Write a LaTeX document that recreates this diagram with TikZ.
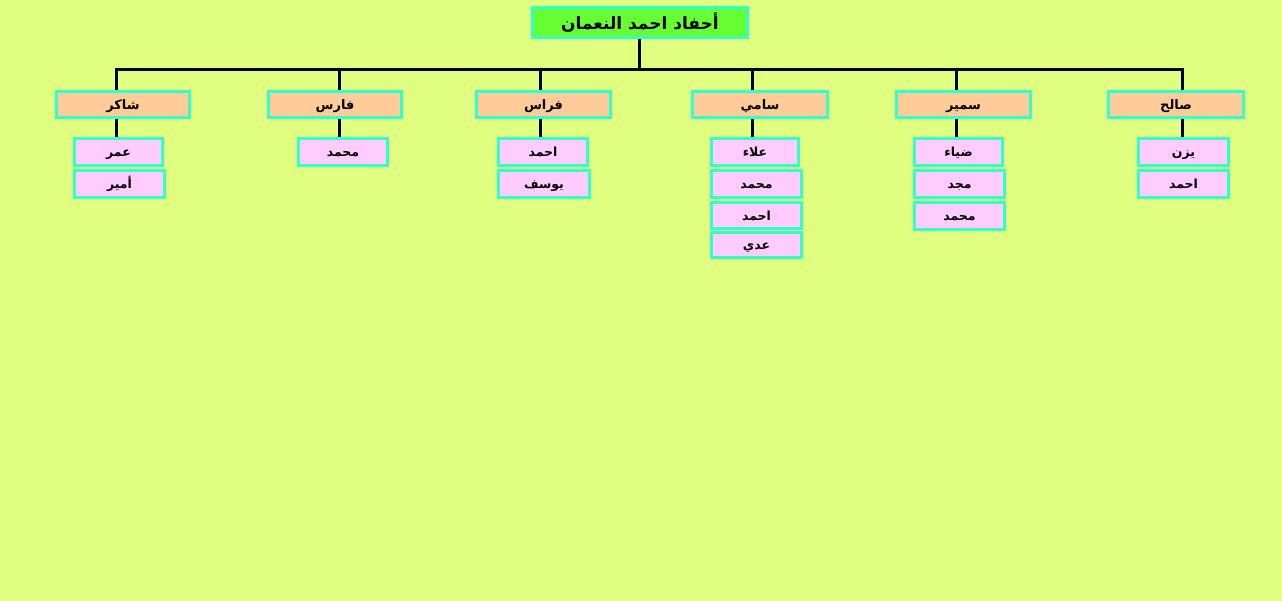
\documentclass[tikz,border=0pt]{standalone}
\usepackage{fontspec}
\TeXXeTstate=1
\newfontfamily\arabicfont[Script=Arabic]{DejaVu Sans}
\definecolor{bgc}{RGB}{224,255,128}
\definecolor{rootc}{RGB}{102,255,51}
\definecolor{edgec}{RGB}{51,255,204}
\definecolor{childc}{RGB}{255,204,153}
\definecolor{grandc}{RGB}{255,204,255}
\newcommand{\ar}[1]{\raisebox{-0.4em}[0pt][0pt]{\arabicfont\bfseries\beginR #1\endR}}
\begin{document}
\begin{tikzpicture}[x=1pt,y=-1pt,
  box/.style={draw=edgec,line width=3pt,inner sep=0pt,anchor=center,text=black},
  rootbox/.style={box,fill=rootc,minimum width=215pt,minimum height=30pt,font=\fontsize{17}{19}\selectfont},
  childbox/.style={box,fill=childc,minimum width=133pt,minimum height=26pt,font=\fontsize{13}{15}\selectfont},
  grandbox/.style={box,fill=grandc,minimum height=27pt,font=\fontsize{12.5}{14}\selectfont},
  link/.style={draw=black,line width=3pt}]
\fill[bgc] (0,0) rectangle (1282,601);
\useasboundingbox (0,0) rectangle (1282,601);
% root
\node[rootbox] (root) at (640,22.5) {\ar{أحفاد احمد النعمان}};
% children
\node[childbox,minimum width=133pt] (c1) at (123,104.5) {\ar{شاكر}};
\node[childbox,minimum width=133pt] (c2) at (335,104.5) {\ar{فارس}};
\node[childbox,minimum width=134pt] (c3) at (543.5,104.5) {\ar{فراس}};
\node[childbox,minimum width=135pt] (c4) at (760,104.5) {\ar{سامي}};
\node[childbox,minimum width=134pt] (c5) at (963.5,104.5) {\ar{سمير}};
\node[childbox,minimum width=135pt] (c6) at (1176,104.5) {\ar{صالح}};
% grandchildren
\node[grandbox,minimum width=88pt] (g11) at (118.5,152) {\ar{عمر}};
\node[grandbox,minimum width=90pt] (g12) at (119.5,184) {\ar{أمير}};
\node[grandbox,minimum width=89pt] (g21) at (343,152) {\ar{محمد}};
\node[grandbox,minimum width=89pt] (g31) at (543,152) {\ar{احمد}};
\node[grandbox,minimum width=91pt] (g32) at (544,184) {\ar{يوسف}};
\node[grandbox,minimum width=87pt] (g41) at (755,152) {\ar{علاء}};
\node[grandbox,minimum width=90pt] (g42) at (756.5,184) {\ar{محمد}};
\node[grandbox,minimum width=90pt,minimum height=26pt] (g43) at (756.5,215.5) {\ar{احمد}};
\node[grandbox,minimum width=90pt,minimum height=25pt] (g44) at (756.5,245) {\ar{عدي}};
\node[grandbox,minimum width=88pt] (g51) at (958.5,152) {\ar{ضياء}};
\node[grandbox,minimum width=90pt] (g52) at (959.5,184) {\ar{مجد}};
\node[grandbox,minimum width=90pt] (g53) at (959.5,216) {\ar{محمد}};
\node[grandbox,minimum width=90pt] (g61) at (1183.5,152) {\ar{يزن}};
\node[grandbox,minimum width=90pt] (g62) at (1183.5,184) {\ar{احمد}};
% junctions
\coordinate (jr) at (639,70);
\coordinate (j1) at (116,70);
\coordinate (j2) at (339,70);
\coordinate (j3) at (540,70);
\coordinate (j4) at (752,70);
\coordinate (j5) at (956,70);
\coordinate (j6) at (1182,70);
% connectors
\draw[link] (root.south -| jr) -- (jr);
\draw[link] (c1.north -| j1) -- (j1) -- (j6) -- (c6.north -| j6);
\draw[link] (j2) -- (c2.north -| j2);
\draw[link] (j3) -- (c3.north -| j3);
\draw[link] (j4) -- (c4.north -| j4);
\draw[link] (j5) -- (c5.north -| j5);
\draw[link] (c1.south -| j1) -- (g11.north -| j1);
\draw[link] (c2.south -| j2) -- (g21.north -| j2);
\draw[link] (c3.south -| j3) -- (g31.north -| j3);
\draw[link] (c4.south -| j4) -- (g41.north -| j4);
\draw[link] (c5.south -| j5) -- (g51.north -| j5);
\draw[link] (c6.south -| j6) -- (g61.north -| j6);
\end{tikzpicture}
\end{document}
